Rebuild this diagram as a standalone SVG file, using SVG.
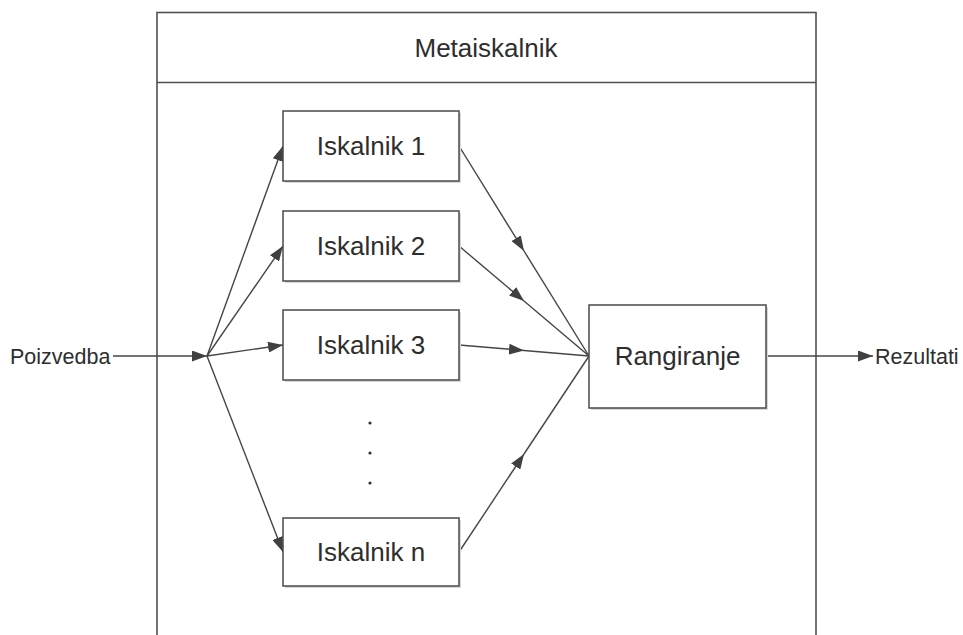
<svg xmlns="http://www.w3.org/2000/svg" width="963" height="635" viewBox="0 0 963 635">
  <style>
    .box { fill: #ffffff; stroke: #4a4a4a; stroke-width: 1.5; }
    .shadow { fill: #d8d8d8; stroke: none; }
    .frame { fill: #ffffff; stroke: #505050; stroke-width: 1.6; }
    .lbl { font-family: "Liberation Sans", Arial, sans-serif; font-size: 26px; fill: #2e2e2e; text-anchor: middle; }
    .side { font-family: "Liberation Sans", Arial, sans-serif; font-size: 21.5px; fill: #2e2e2e; }
    .wire { fill: none; stroke: #454545; stroke-width: 1.4; }
    .dot { fill: #333333; }
  </style>
  <defs>
    <marker id="arrow" viewBox="0 0 15 11" refX="15" refY="5.5" markerWidth="15" markerHeight="11" markerUnits="userSpaceOnUse" orient="auto">
      <path d="M0,0 L15,5.5 L0,11 Z" fill="#404040"/>
    </marker>
  </defs>

  <rect width="963" height="635" fill="#ffffff"/>

  <!-- outer container with title band -->
  <g id="metaiskalnik">
    <rect class="frame" x="157" y="12.5" width="659" height="640"/>
    <line x1="157" y1="82.5" x2="816" y2="82.5" stroke="#505050" stroke-width="1.6"/>
    <text class="lbl" x="486" y="57">Metaiskalnik</text>
  </g>

  <!-- connectors -->
  <g id="connectors">
    <line class="wire" x1="113" y1="356" x2="207" y2="356" marker-end="url(#arrow)"/>
    <line class="wire" x1="207" y1="356" x2="283" y2="146" marker-end="url(#arrow)"/>
    <line class="wire" x1="207" y1="356" x2="283" y2="246" marker-end="url(#arrow)"/>
    <line class="wire" x1="207" y1="356" x2="283" y2="345" marker-end="url(#arrow)"/>
    <line class="wire" x1="207" y1="356" x2="283" y2="552" marker-end="url(#arrow)"/>

    <line class="wire" x1="459" y1="146" x2="524" y2="251" marker-end="url(#arrow)"/>
    <line class="wire" x1="524" y1="251" x2="589" y2="356"/>
    <line class="wire" x1="459" y1="246" x2="524" y2="301" marker-end="url(#arrow)"/>
    <line class="wire" x1="524" y1="301" x2="589" y2="356"/>
    <line class="wire" x1="459" y1="345" x2="524" y2="350.5" marker-end="url(#arrow)"/>
    <line class="wire" x1="524" y1="350.5" x2="589" y2="356"/>
    <line class="wire" x1="459" y1="552" x2="524" y2="454" marker-end="url(#arrow)"/>
    <line class="wire" x1="524" y1="454" x2="589" y2="356"/>

    <line class="wire" x1="766" y1="356" x2="873" y2="356" marker-end="url(#arrow)"/>
  </g>

  <!-- input / output labels -->
  <g id="poizvedba">
    <text class="side" x="10" y="363.5">Poizvedba</text>
  </g>
  <g id="rezultati">
    <text class="side" x="875" y="363.5">Rezultati</text>
  </g>

  <!-- search engines -->
  <g id="iskalnik-1">
    <rect class="shadow" x="285" y="113" width="176" height="70"/>
    <rect class="box" x="283" y="111" width="176" height="70"/>
    <text class="lbl" x="371" y="155">Iskalnik 1</text>
  </g>
  <g id="iskalnik-2">
    <rect class="shadow" x="285" y="213" width="176" height="70"/>
    <rect class="box" x="283" y="211" width="176" height="70"/>
    <text class="lbl" x="371" y="255">Iskalnik 2</text>
  </g>
  <g id="iskalnik-3">
    <rect class="shadow" x="285" y="312" width="176" height="70"/>
    <rect class="box" x="283" y="310" width="176" height="70"/>
    <text class="lbl" x="371" y="354">Iskalnik 3</text>
  </g>
  <g id="ellipsis">
    <circle class="dot" cx="370" cy="423" r="1.6"/>
    <circle class="dot" cx="370" cy="453" r="1.6"/>
    <circle class="dot" cx="370" cy="483" r="1.6"/>
  </g>
  <g id="iskalnik-n">
    <rect class="shadow" x="285" y="520" width="176" height="68"/>
    <rect class="box" x="283" y="518" width="176" height="68"/>
    <text class="lbl" x="371" y="561">Iskalnik n</text>
  </g>

  <!-- ranking -->
  <g id="rangiranje">
    <rect class="shadow" x="591" y="307" width="177" height="103"/>
    <rect class="box" x="589" y="305" width="177" height="103"/>
    <text class="lbl" x="677.5" y="365">Rangiranje</text>
  </g>
</svg>
